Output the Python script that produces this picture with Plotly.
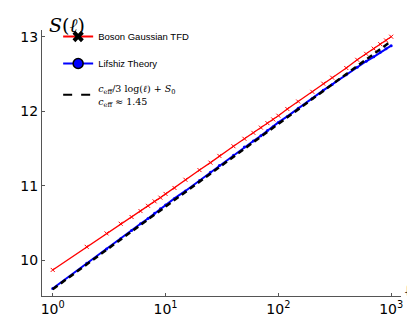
import plotly.graph_objects as go

# subsystem sizes (ell)
ell = [1, 2, 3, 4, 5, 6, 7, 8, 9, 10, 12, 15, 20, 25, 30, 40, 50, 60, 70, 80, 90,
       100, 120, 150, 200, 250, 300, 400, 500, 600, 700, 800, 900, 1000]

# Boson Gaussian TFD entropy
s_tfd = [9.87, 10.18, 10.36, 10.49, 10.58, 10.66, 10.73, 10.79, 10.84, 10.89,
         10.97, 11.08, 11.21, 11.31, 11.40, 11.53, 11.63, 11.71, 11.78, 11.84, 11.89,
         11.94, 12.03, 12.13, 12.26, 12.37, 12.45, 12.58, 12.69, 12.77, 12.84, 12.90, 12.95, 13.00]

# Lifshiz theory entropy
s_lif = [9.62, 9.96, 10.15, 10.29, 10.40, 10.49, 10.56, 10.63, 10.69, 10.74,
         10.83, 10.93, 11.07, 11.18, 11.27, 11.41, 11.52, 11.60, 11.67, 11.74, 11.79,
         11.85, 11.93, 12.04, 12.17, 12.28, 12.36, 12.49, 12.59, 12.67, 12.73, 12.79, 12.84, 12.88]

# fit line c_eff/3 log(ell) + S0 (straight on log axis)
fit_ell = [1, 1000]
fit_s = [9.61, 12.94]

fig = go.Figure()

fig.add_trace(go.Scatter(x=ell, y=s_tfd, mode='lines+markers', showlegend=False,
                         line=dict(color='red', width=1.3),
                         marker=dict(symbol='x-thin', size=4, color='red',
                                     line=dict(color='red', width=1))))
fig.add_trace(go.Scatter(x=ell, y=s_lif, mode='lines+markers', showlegend=False,
                         line=dict(color='blue', width=2),
                         marker=dict(symbol='circle', size=3, color='blue')))
fig.add_trace(go.Scatter(x=fit_ell, y=fit_s, mode='lines', showlegend=False,
                         line=dict(color='black', width=2.5, dash='6px,4px')))

# legend entries
serif = 'font-family:DejaVu Serif'
fig.add_trace(go.Scatter(x=[None], y=[None], mode='lines+markers', name='Boson Gaussian TFD',
                         legendgroup='a',
                         line=dict(color='red', width=2),
                         marker=dict(symbol='x', size=10, color='black')))
fig.add_trace(go.Scatter(x=[None], y=[None], mode='lines+markers', name='Lifshiz Theory',
                         legendgroup='b',
                         line=dict(color='blue', width=2),
                         marker=dict(symbol='circle', size=10, color='blue',
                                     line=dict(color='black', width=1.5))))
fig.add_trace(go.Scatter(x=[None], y=[None], mode='lines', legendgroup='c',
                         name=f'<span style="{serif}"><i>c</i><sub>eff</sub>/3 log(<i>ℓ</i>) + <i>S</i><sub>0</sub></span>'
                              f'<br><span style="{serif}"><i>c</i><sub>eff</sub> ≈ 1.45</span>',
                         line=dict(color='black', width=2, dash='dash')))

fig.update_layout(
    width=415, height=321,
    margin=dict(l=23, r=22, t=22, b=24),
    plot_bgcolor='white', paper_bgcolor='white',
    font=dict(family='DejaVu Sans', color='black'),
    showlegend=True,
    legend=dict(x=0.045, y=1.03, xanchor='left', yanchor='top',
                font=dict(family='Liberation Sans', size=9.5),
                tracegroupgap=8, bgcolor='rgba(0,0,0,0)'),
    xaxis=dict(type='log', range=[-0.095, 3.087],
               tickvals=[1, 10, 100, 1000],
               ticktext=['10<sup>0</sup>', '10<sup>1</sup>', '10<sup>2</sup>', '10<sup>3</sup>'],
               showgrid=False, zeroline=False, showline=True, linecolor='#555555',
               ticks='inside', ticklen=3, tickcolor='#555555',
               tickfont=dict(size=14)),
    yaxis=dict(range=[9.52, 13.09], tickvals=[10, 11, 12, 13],
               showgrid=False, zeroline=False, showline=True, linecolor='#555555',
               ticks='inside', ticklen=3, tickcolor='#555555',
               tickfont=dict(size=14)),
    annotations=[
        dict(text='<i>S</i>(<i>ℓ</i>)', xref='paper', yref='paper', x=0.0, y=1.0,
             xanchor='left', yanchor='bottom', showarrow=False, xshift=5, yshift=-8,
             font=dict(family='DejaVu Serif', size=19)),
        dict(text='ℓ', xref='paper', yref='paper', x=1.0, y=0.0,
             xanchor='left', yanchor='middle', showarrow=False, xshift=1, yshift=6,
             font=dict(family='DejaVu Serif', size=20, color='black')),
    ],
)

fig.write_html("out.html")
